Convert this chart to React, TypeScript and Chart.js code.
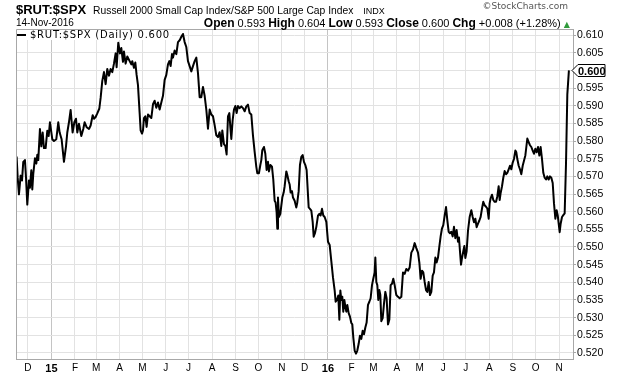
import React, { useEffect, useRef } from "react";
import { Chart, registerables } from "chart.js";

Chart.register(...registerables);

// Days counted from 14-Nov-2014 (day 0); the series ends on 14-Nov-2016 (day 731)
const dayOffsets = [
  2.0, 3.4, 5.1, 7.3, 9.1, 10.8, 13.0, 14.4, 16.1, 18.3, 19.6, 21.4, 22.7, 24.0, 26.2, 28.0, 29.3, 30.6, 32.8, 34.6,
  36.4, 38.1, 40.3, 42.5, 44.3, 46.0, 49.1, 51.3, 54.4, 57.0, 58.8, 61.4, 64.5, 67.2, 68.9, 71.1, 73.3, 75.9, 78.2, 80.4,
  82.1, 84.3, 87.4, 90.0, 91.8, 94.4, 97.5, 99.7, 102.4, 104.1, 106.3, 108.5, 111.2, 112.9, 115.1, 117.3, 119.5, 121.7, 123.9, 126.1,
  128.3, 130.5, 132.7, 134.0, 136.2, 138.4, 140.2, 142.4, 143.7, 145.9, 148.1,
  151.2, 153.4, 154.7, 156.9, 158.7, 160.4, 162.2, 164.4, 165.7, 167.5, 168.8, 170.1, 171.9, 173.6, 175.4, 177.6, 179.8, 182.0, 184.2,
  186.4, 188.6, 190.8, 193.0, 195.2, 197.4, 199.6, 201.8, 203.6, 205.3, 207.1, 208.4, 210.6, 212.8, 215.0, 217.2, 219.4, 221.6, 223.8,
  226.0, 228.2, 230.4, 232.6, 234.8, 237.0, 239.2, 241.4, 243.6, 245.8, 248.0, 250.2, 252.4, 254.6, 256.8, 259.0, 261.2, 263.4, 265.6,
  267.8, 270.0, 272.2, 273.5, 275.7, 277.5, 279.2, 281.0, 282.8, 284.1, 285.4, 287.2, 288.9, 290.7, 292.4, 294.2,
  296.4, 298.6, 300.8, 303.0, 305.2, 307.4, 309.6, 311.8, 314.0, 316.2, 318.4, 319.7, 321.9, 323.7, 325.0, 326.3, 328.5, 330.3, 332.0,
  333.8, 335.1, 336.9, 339.1, 340.8, 342.6, 343.9, 345.2, 346.1, 347.0, 348.3, 350.1, 351.4, 352.7, 354.5, 355.8, 358.0, 359.3, 361.1,
  362.4, 363.7, 365.5, 366.8, 369.0, 371.2, 372.5, 374.3, 376.0, 377.8, 379.6, 381.3, 383.1, 384.8, 386.2, 387.5, 389.2, 391.0, 392.8,
  394.1, 395.8, 397.6, 399.8, 401.6, 403.3, 405.1, 406.8, 408.6, 410.8, 413.0, 415.2, 417.4, 419.6, 421.8, 423.1, 424.9, 426.6, 428.0,
  429.3, 430.6, 431.9, 433.2, 434.6, 435.9, 437.2, 438.5, 440.3, 442.0, 443.8,
  445.1, 446.4, 448.2, 450.0, 451.7, 453.5, 455.2, 457.0, 458.8, 460.5, 462.3, 464.0, 465.8, 467.6, 469.3, 471.1, 472.8, 474.6, 475.5,
  476.8, 478.1, 479.4, 480.8, 482.1, 483.4, 485.2, 487.0, 488.7, 490.4, 492.2, 494.0, 495.7, 497.5, 499.2, 501.0, 503.2, 505.4, 507.6,
  509.8, 512.0, 514.2, 516.4, 518.6, 520.8, 523.0, 525.2, 527.4, 529.6, 531.8, 533.6, 535.3, 537.1, 538.8, 540.6, 542.4, 544.1, 545.9,
  547.6, 549.4, 551.2, 552.9, 554.7, 556.4, 558.2, 560.0, 561.7, 563.5, 565.2, 567.0, 568.8, 570.5, 572.3, 574.0, 575.8, 577.6, 579.3,
  581.1, 582.8, 584.6,
  585.9, 587.2, 588.6, 589.9, 591.6, 593.0, 594.3, 596.0, 597.8, 600.0, 602.2, 604.0, 605.7, 607.5, 609.2, 611.0, 612.8, 614.5, 616.3,
  618.0, 619.8, 621.6, 623.3, 625.1, 626.4, 627.7, 629.5, 631.2, 633.0, 634.8, 636.5, 638.3, 639.6, 640.9, 642.7, 644.4, 646.2, 648.0,
  649.7, 651.5, 653.2, 655.0, 656.8, 658.5, 660.3, 661.6, 662.9, 664.7, 666.4, 668.2, 670.0, 671.7, 673.5, 674.8, 676.1, 677.9, 679.6,
  681.4, 683.2, 684.9, 686.7, 688.4, 690.2, 692.0, 693.7, 695.5, 697.2, 699.0, 700.8, 702.5, 704.3, 706.0, 707.8, 709.6, 711.3, 713.1,
  714.8, 716.2, 717.5, 718.8, 720.1, 721.9, 723.6, 725.4, 727.2, 728.9, 731.0,
];

const ratioValues = [
  0.5756, 0.5697, 0.5649, 0.5702, 0.5688, 0.5741, 0.5746, 0.5697, 0.5620, 0.5688, 0.5668, 0.5717, 0.5663, 0.5707, 0.5751, 0.5736, 0.5761, 0.5746, 0.5834, 0.5785,
  0.5824, 0.5780, 0.5780, 0.5829, 0.5814, 0.5853, 0.5805, 0.5800, 0.5805, 0.5853, 0.5824, 0.5805, 0.5741, 0.5785, 0.5824, 0.5853, 0.5888, 0.5824, 0.5853, 0.5863,
  0.5824, 0.5849, 0.5814, 0.5834, 0.5853, 0.5839, 0.5834, 0.5844, 0.5873, 0.5863, 0.5868, 0.5878, 0.5892, 0.5922, 0.5970, 0.5995, 0.5961, 0.6004, 0.5985, 0.6004,
  0.5995, 0.6019, 0.6048, 0.6009, 0.6078, 0.6048, 0.6063, 0.6024, 0.6053, 0.6019, 0.6039,
  0.6026, 0.6017, 0.6026, 0.6007, 0.6022, 0.5987, 0.5958, 0.5879, 0.5830, 0.5821, 0.5830, 0.5865, 0.5870, 0.5840, 0.5875, 0.5870, 0.5865, 0.5904, 0.5914,
  0.5894, 0.5909, 0.5889, 0.5909, 0.5928, 0.5973, 0.5987, 0.6017, 0.6026, 0.6012, 0.6046, 0.6036, 0.6056, 0.6046, 0.6080, 0.6085, 0.6095, 0.6103, 0.6080,
  0.6066, 0.6026, 0.6012, 0.5997, 0.6012, 0.6026, 0.6036, 0.5992, 0.5924, 0.5924, 0.5953, 0.5928, 0.5889, 0.5835, 0.5889, 0.5875, 0.5870, 0.5845, 0.5816,
  0.5811, 0.5825, 0.5786, 0.5830, 0.5791, 0.5786, 0.5762, 0.5870, 0.5879, 0.5840, 0.5806, 0.5860, 0.5889, 0.5899, 0.5879, 0.5899,
  0.5893, 0.5898, 0.5893, 0.5884, 0.5898, 0.5903, 0.5879, 0.5875, 0.5815, 0.5769, 0.5727, 0.5709, 0.5709, 0.5732, 0.5746, 0.5774, 0.5783, 0.5764, 0.5718,
  0.5741, 0.5714, 0.5732, 0.5727, 0.5691, 0.5631, 0.5626, 0.5598, 0.5552, 0.5640, 0.5585, 0.5594, 0.5617, 0.5640, 0.5654, 0.5672, 0.5714, 0.5704, 0.5686,
  0.5677, 0.5654, 0.5658, 0.5640, 0.5631, 0.5612, 0.5626, 0.5658, 0.5732, 0.5755, 0.5760, 0.5741, 0.5732, 0.5718, 0.5663, 0.5612, 0.5608, 0.5603, 0.5571,
  0.5529, 0.5539, 0.5557, 0.5589, 0.5594, 0.5589, 0.5608, 0.5589, 0.5585, 0.5571, 0.5515, 0.5506, 0.5460, 0.5414, 0.5377, 0.5345, 0.5350, 0.5363, 0.5294,
  0.5377, 0.5350, 0.5359, 0.5317, 0.5350, 0.5331, 0.5317, 0.5336, 0.5313, 0.5303, 0.5285,
  0.5281, 0.5244, 0.5207, 0.5198, 0.5207, 0.5226, 0.5249, 0.5240, 0.5263, 0.5253, 0.5272, 0.5286, 0.5336, 0.5345, 0.5355, 0.5392, 0.5410, 0.5428, 0.5470,
  0.5401, 0.5392, 0.5350, 0.5378, 0.5364, 0.5290, 0.5299, 0.5341, 0.5373, 0.5355, 0.5281, 0.5295, 0.5392, 0.5396, 0.5410, 0.5392, 0.5364, 0.5359, 0.5355,
  0.5359, 0.5428, 0.5424, 0.5438, 0.5433, 0.5442, 0.5484, 0.5493, 0.5511, 0.5497, 0.5484, 0.5456, 0.5410, 0.5433, 0.5428, 0.5401, 0.5378, 0.5373, 0.5401,
  0.5364, 0.5373, 0.5419, 0.5428, 0.5470, 0.5456, 0.5470, 0.5502, 0.5530, 0.5553, 0.5562, 0.5589, 0.5613, 0.5576, 0.5543, 0.5539, 0.5543, 0.5530, 0.5557,
  0.5525, 0.5548, 0.5515,
  0.5527, 0.5488, 0.5450, 0.5469, 0.5488, 0.5503, 0.5469, 0.5488, 0.5546, 0.5585, 0.5604, 0.5585, 0.5570, 0.5580, 0.5556, 0.5566, 0.5575, 0.5585, 0.5609,
  0.5628, 0.5618, 0.5614, 0.5609, 0.5580, 0.5624, 0.5638, 0.5648, 0.5633, 0.5628, 0.5628, 0.5643, 0.5672, 0.5633, 0.5653, 0.5672, 0.5696, 0.5715, 0.5706,
  0.5710, 0.5720, 0.5730, 0.5720, 0.5739, 0.5749, 0.5773, 0.5768, 0.5749, 0.5730, 0.5720, 0.5706, 0.5730, 0.5744, 0.5759, 0.5783, 0.5807, 0.5797, 0.5788,
  0.5783, 0.5773, 0.5764, 0.5778, 0.5768, 0.5783, 0.5759, 0.5783, 0.5749, 0.5710, 0.5696, 0.5691, 0.5700, 0.5691, 0.5700, 0.5696, 0.5681, 0.5624, 0.5580,
  0.5604, 0.5590, 0.5566, 0.5542, 0.5566, 0.5585, 0.5590, 0.5595, 0.5739, 0.5932, 0.6000,
];

// Month gridlines (first day of each month, in days from 14-Nov-2014)
const monthTickDays = [17, 48, 79, 107, 138, 168, 199, 229, 260, 291, 321, 352, 382, 413, 444, 473, 504, 534, 565, 595, 626, 657, 687, 718];
const monthTickLabels = ["D", "15", "F", "M", "A", "M", "J", "J", "A", "S", "O", "N", "D", "16", "F", "M", "A", "M", "J", "J", "A", "S", "O", "N"];
const yearTickLabels = ["15", "16"];

const priceTicks = [
  0.52, 0.525, 0.53, 0.535, 0.54, 0.545, 0.55, 0.555, 0.56, 0.565, 0.57, 0.575, 0.58, 0.585, 0.59, 0.595, 0.6, 0.605, 0.61,
];

const symbol = "$RUT:$SPX";
const description = "Russell 2000 Small Cap Index/S&P 500 Large Cap Index";
const exchange = "INDX";
const quoteDate = "14-Nov-2016";
const quoteLabels = ["Open", "High", "Low", "Close", "Chg"];
const quoteValues = ["0.593", "0.604", "0.593", "0.600", "+0.008 (+1.28%)"];
const legendText = "$RUT:$SPX (Daily) 0.600";

const SANS = "'Liberation Sans', Arial, sans-serif";
const VERDANA = "'DejaVu Sans', Verdana, sans-serif";

const overlayPlugin = {
  id: "overlayPlugin",
  afterDraw(chart: any) {
    const { ctx, chartArea: a, scales } = chart;
    ctx.save();
    // frame
    ctx.strokeStyle = "#a8a8a8";
    ctx.lineWidth = 1;
    ctx.beginPath();
    ctx.moveTo(a.left + 0.5, a.bottom);
    ctx.lineTo(a.left + 0.5, a.top + 0.5);
    ctx.lineTo(a.right, a.top + 0.5);
    ctx.stroke();

    // last value tag on the price axis
    const data = chart.data.datasets[0].data;
    const last = data[data.length - 1].y;
    const y = Math.round(scales.y.getPixelForValue(last)) + 0.5;
    const x0 = a.right - 1;
    ctx.beginPath();
    ctx.moveTo(x0, y);
    ctx.lineTo(x0 + 6, y - 6);
    ctx.lineTo(x0 + 33, y - 6);
    ctx.lineTo(x0 + 33, y + 6);
    ctx.lineTo(x0 + 6, y + 6);
    ctx.closePath();
    ctx.fillStyle = "#fff";
    ctx.fill();
    ctx.strokeStyle = "#000";
    ctx.stroke();
    ctx.fillStyle = "#000";
    ctx.font = "bold 11px " + SANS;
    ctx.textBaseline = "middle";
    ctx.fillText(last.toFixed(3), x0 + 6, y + 1);
    ctx.restore();
  },
};

function ChartCanvas() {
  const ref = useRef<HTMLCanvasElement | null>(null);
  useEffect(() => {
    if (!ref.current) return;
    const points = dayOffsets.map((d, i) => ({ x: d, y: ratioValues[i] }));
    const chart = new Chart(ref.current, {
      type: "line",
      data: {
        datasets: [
          {
            label: legendText,
            data: points,
            borderColor: "#000",
            borderWidth: 2,
            pointRadius: 0,
            tension: 0,
            borderJoinStyle: "round",
            fill: false,
          },
        ],
      },
      options: {
        animation: false,
        responsive: false,
        events: [],
        layout: { padding: { left: 16, top: 29, right: 0, bottom: 0 } },
        plugins: { legend: { display: false }, tooltip: { enabled: false }, title: { display: false } },
        scales: {
          x: {
            type: "linear",
            min: 1.2,
            max: 736.4,
            afterBuildTicks: (scale: any) => {
              scale.ticks = monthTickDays.map((v) => ({ value: v }));
            },
            afterFit: (scale: any) => {
              scale.height = 17;
              scale.paddingLeft = 0;
              scale.paddingRight = 0;
            },
            grid: {
              color: (ctx: any) => (yearTickLabels.includes(monthTickLabels[ctx.index]) ? "#c4c4c4" : "#e2e2e2"),
              drawTicks: false,
              lineWidth: 1,
            },
            border: { display: true, color: "#a8a8a8" },
            ticks: {
              autoSkip: false,
              maxRotation: 0,
              padding: 3,
              color: "#000",
              font: (ctx: any) =>
                yearTickLabels.includes(monthTickLabels[ctx.index])
                  ? { family: SANS, size: 11, weight: "bold" }
                  : { family: SANS, size: 10, weight: "normal" },
              callback: (_v: any, i: number) => monthTickLabels[i],
            },
          },
          y: {
            type: "linear",
            position: "right",
            min: 0.5183,
            max: 0.6117,
            afterBuildTicks: (scale: any) => {
              scale.ticks = priceTicks.map((v) => ({ value: v }));
            },
            afterFit: (scale: any) => {
              scale.width = 47;
              scale.paddingTop = 0;
              scale.paddingBottom = 0;
            },
            grid: { color: "#e2e2e2", tickColor: "#a8a8a8", tickLength: 3, lineWidth: 1 },
            border: { display: true, color: "#a8a8a8" },
            ticks: {
              padding: 1,
              color: "#000",
              font: { family: SANS, size: 10.5 },
              callback: (v: any) => Number(v).toFixed(3),
            },
          },
        },
      },
      plugins: [overlayPlugin],
    } as any);
    return () => chart.destroy();
  }, []);
  return <canvas ref={ref} width={620} height={376} style={{ display: "block", position: "absolute", left: 0, top: 0 }} />;
}

export default function App() {
  return (
    <div style={{ position: "absolute", left: 0, top: 0, width: 620, height: 376, background: "#fff", overflow: "hidden" }}>
      <ChartCanvas />
      {/* header line 1 */}
      <div style={{ position: "absolute", left: 16, top: 2, display: "flex", alignItems: "baseline", whiteSpace: "pre", lineHeight: 1, color: "#000" }}>
        <span style={{ font: `bold 13px ${SANS}` }}>{symbol}</span>
        <span style={{ font: `10.3px ${SANS}`, marginLeft: 7 }}>{description}</span>
        <span style={{ font: `9px ${SANS}`, marginLeft: 10 }}>{exchange}</span>
      </div>
      <div style={{ position: "absolute", right: 52, top: 2, font: `9px ${VERDANA}`, color: "#555", lineHeight: 1, whiteSpace: "pre" }}>
        ©StockCharts.com
      </div>
      {/* header line 2 */}
      <div style={{ position: "absolute", left: 16, top: 17.5, font: `10px ${SANS}`, lineHeight: 1, color: "#000" }}>{quoteDate}</div>
      <div style={{ position: "absolute", right: 50, top: 15.5, display: "flex", alignItems: "baseline", whiteSpace: "pre", lineHeight: 1, color: "#000" }}>
        {quoteLabels.map((lab, i) => (
          <React.Fragment key={lab}>
            <span style={{ font: `bold 12px ${SANS}` }}>{lab}</span>
            <span style={{ font: `11px ${SANS}` }}>{" " + quoteValues[i] + " "}</span>
          </React.Fragment>
        ))}
        <span style={{ font: `8px ${VERDANA}`, color: "#2f9a3a" }}>▲</span>
      </div>
      {/* legend */}
      <div style={{ position: "absolute", left: 17, top: 30, height: 10, paddingRight: 2, background: "#fff", display: "flex", alignItems: "center", whiteSpace: "pre" }}>
        <span style={{ display: "inline-block", width: 9, height: 2, background: "#000", marginRight: 4 }} />
        <span style={{ font: `10px ${VERDANA}`, letterSpacing: "0.75px", lineHeight: 1, color: "#000" }}>{legendText}</span>
      </div>
    </div>
  );
}
